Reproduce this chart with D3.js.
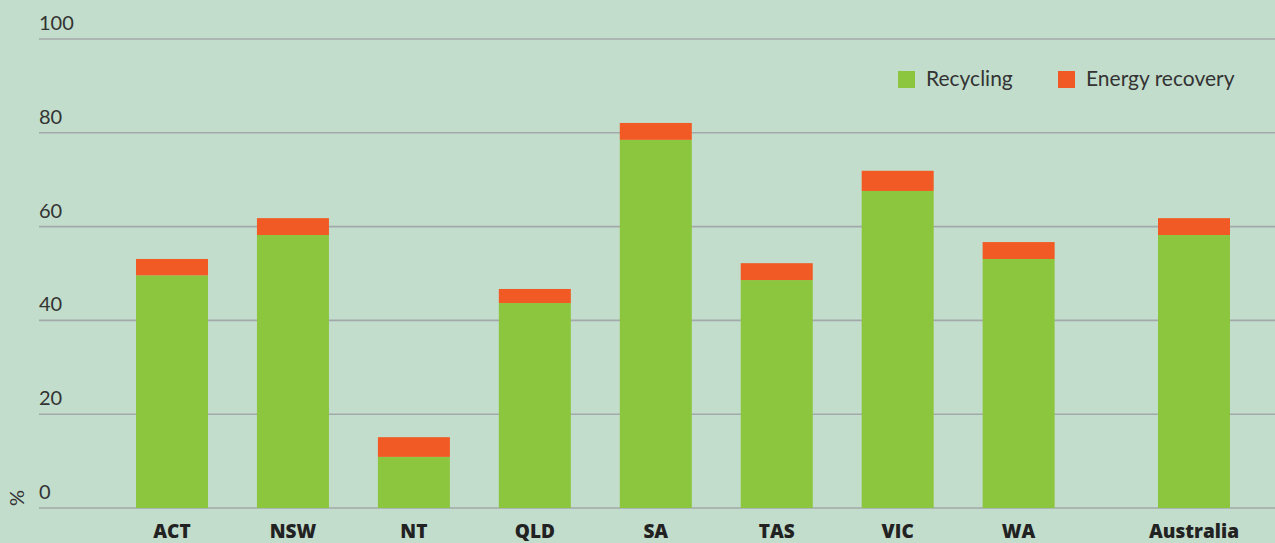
<!DOCTYPE html>
<html>
<head>
<meta charset="utf-8">
<script src="https://cdn.jsdelivr.net/npm/d3@7"></script>
<style>
  html, body { margin: 0; padding: 0; background: #c2ddcc; }
  svg { display: block; }
  .tick-label { font-family: Lato, "Open Sans", sans-serif; font-size: 20px; fill: #333; }
  .cat-label { font-family: "Open Sans", Lato, sans-serif; font-size: 19px; font-weight: 800; fill: #222; }
  .legend-label { font-family: Lato, "Open Sans", sans-serif; font-size: 21px; fill: #333; }
</style>
</head>
<body>
<div id="chart"></div>
<script>
// 지역별 자원 회수율 (%)
var regions = ["ACT", "NSW", "NT", "QLD", "SA", "TAS", "VIC", "WA", "Australia"];
var recycling = [49.6, 58.2, 10.9, 43.7, 78.5, 48.6, 67.6, 53.1, 58.2];
var energyRecovery = [3.5, 3.6, 4.2, 3.0, 3.6, 3.6, 4.3, 3.6, 3.6];
var yTicks = [0, 20, 40, 60, 80, 100];
var seriesNames = ["Recycling", "Energy recovery"];
var seriesColors = ["#8cc63f", "#f15a24"];

const WIDTH = 1275,
  HEIGHT = 543;

var svg = d3.select("#chart").append("svg")
  .attr("width", WIDTH)
  .attr("height", HEIGHT);

// national total sits a little apart from the states
function slot(i) { return i < regions.length - 1 ? i : i + 0.45; }

var x = d3.scaleLinear().domain([0, slot(regions.length - 1)]).range([172, 1194]);
var y = d3.scaleLinear().domain([0, 100]).range([508, 39]);
var barW = 72;

// 격자선
var grid = svg.append("g");
grid.selectAll("line")
  .data(yTicks)
  .enter().append("line")
  .attr("x1", 39).attr("x2", WIDTH)
  .attr("y1", function(d) { return y(d); })
  .attr("y2", function(d) { return y(d); })
  .attr("stroke", "#a3a9aa")
  .attr("stroke-width", 1.6);
grid.selectAll("text")
  .data(yTicks)
  .enter().append("text")
  .attr("class", "tick-label")
  .attr("x", 39)
  .attr("y", function(d) { return y(d) - 9; })
  .text(function(d) { return d; });

svg.append("text")
  .attr("class", "tick-label")
  .attr("transform", "translate(24," + (y(0) - 10) + ") rotate(-90)")
  .attr("text-anchor", "middle")
  .text("%");

// 막대
var rows = regions.map(function(r, i) {
  return { region: r, i: i, rec: recycling[i], en: energyRecovery[i] };
});
var bars = svg.append("g");
bars.selectAll("rect.rec")
  .data(rows)
  .enter().append("rect")
  .attr("class", "rec")
  .attr("x", function(d) { return x(slot(d.i)) - barW / 2; })
  .attr("width", barW)
  .attr("y", function(d) { return y(d.rec); })
  .attr("height", function(d) { return y(0) - y(d.rec); })
  .attr("fill", seriesColors[0]);
bars.selectAll("rect.en")
  .data(rows)
  .enter().append("rect")
  .attr("class", "en")
  .attr("x", function(d) { return x(slot(d.i)) - barW / 2; })
  .attr("width", barW)
  .attr("y", function(d) { return y(d.rec + d.en); })
  .attr("height", function(d) { return y(d.rec) - y(d.rec + d.en); })
  .attr("fill", seriesColors[1]);

svg.append("g").selectAll("text")
  .data(rows)
  .enter().append("text")
  .attr("class", "cat-label")
  .attr("x", function(d) { return x(slot(d.i)); })
  .attr("y", 538)
  .attr("text-anchor", "middle")
  .text(function(d) { return d.region; });

// 범례
var legendX = [898, 1058];
var legend = svg.append("g").selectAll("g")
  .data(seriesNames)
  .enter().append("g")
  .attr("transform", function(d, i) { return "translate(" + legendX[i] + ",71)"; });
legend.append("rect")
  .attr("width", 17).attr("height", 17)
  .attr("fill", function(d, i) { return seriesColors[i]; });
legend.append("text")
  .attr("class", "legend-label")
  .attr("x", 28).attr("y", 15)
  .text(function(d) { return d; });
</script>
</body>
</html>
